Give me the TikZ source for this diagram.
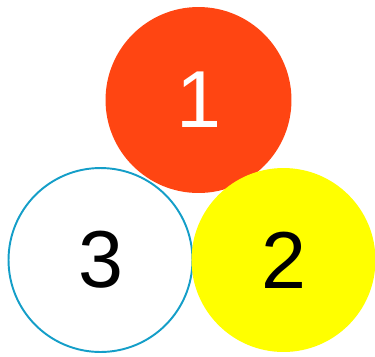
\documentclass[tikz,border=0pt]{standalone}
\usepackage{fontspec}
\setmainfont{Liberation Sans}
\usepackage{tikz}
\definecolor{ballred}{RGB}{255,69,18}
\definecolor{ballyellow}{RGB}{255,255,0}
\definecolor{ringblue}{RGB}{20,158,200}

\begin{document}
\begin{tikzpicture}[x=0.02cm, y=-0.02cm,
    ball/.style={circle, minimum size=3.68cm, inner sep=0pt,
      font=\fontsize{46}{50}\selectfont}]
    \useasboundingbox (0,0) rectangle (375,356);

    \node[ball, draw=ringblue, line width=1.1pt, fill=white] (three) at (100.5,260) {3};
    \node[ball, fill=ballred, text=white, minimum size=3.72cm] (one) at (198.5,100) {1};
    \node[ball, fill=ballyellow] (two) at (283.5,260) {2};
\end{tikzpicture}
\end{document}
